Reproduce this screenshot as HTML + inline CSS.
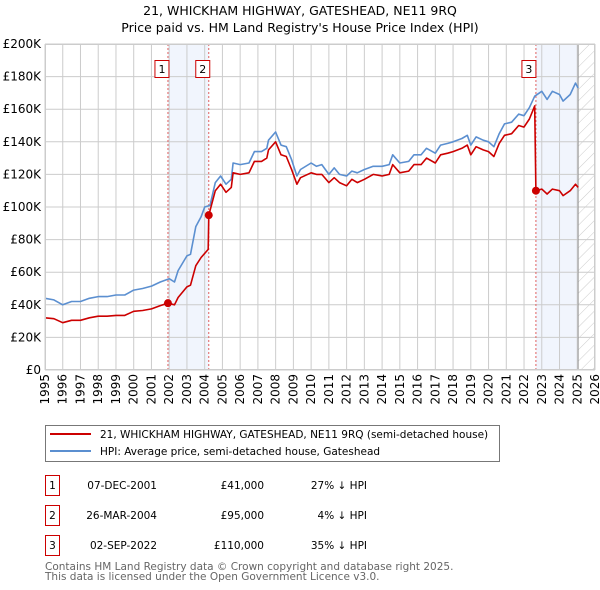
<!DOCTYPE html>
<html><head><meta charset="utf-8"><style>
body{margin:0;background:#fff;}
svg{display:block;font-family:"DejaVu Sans","Liberation Sans",sans-serif;}
</style></head><body>
<svg id="c" width="600" height="590" xmlns="http://www.w3.org/2000/svg">
<defs><pattern id="hatch" width="8" height="8" patternUnits="userSpaceOnUse" patternTransform="rotate(45)"><line x1="0" y1="0" x2="0" y2="8" stroke="#ccc" stroke-width="1"/></pattern></defs>
<text x="300" y="15" text-anchor="middle" font-size="12.5" fill="#000">21, WHICKHAM HIGHWAY, GATESHEAD, NE11 9RQ</text>
<text x="300" y="32" text-anchor="middle" font-size="12.5" fill="#000">Price paid vs. HM Land Registry's House Price Index (HPI)</text>
<g id="plot"></g>
<g>
<rect x="45.5" y="425.5" width="454" height="36" fill="#fff" stroke="#777"/>
<line x1="50" y1="434" x2="91" y2="434" stroke="#cc0000" stroke-width="2"/>
<text x="100" y="438" font-size="10.5">21, WHICKHAM HIGHWAY, GATESHEAD, NE11 9RQ (semi-detached house)</text>
<line x1="50" y1="451" x2="91" y2="451" stroke="#5b8fd0" stroke-width="2"/>
<text x="100" y="455" font-size="10.5">HPI: Average price, semi-detached house, Gateshead</text>
</g>
<g font-size="10.5">
<rect x="45.5" y="475.5" width="14" height="20" fill="#fff" stroke="#cc0000"/><text x="52.5" y="489" text-anchor="middle">1</text>
<text x="157" y="489" text-anchor="end">07-DEC-2001</text><text x="264" y="489" text-anchor="end">£41,000</text><text x="367" y="489" text-anchor="end">27% ↓ HPI</text>
<rect x="45.5" y="505.5" width="14" height="20" fill="#fff" stroke="#cc0000"/><text x="52.5" y="519" text-anchor="middle">2</text>
<text x="157" y="519" text-anchor="end">26-MAR-2004</text><text x="264" y="519" text-anchor="end">£95,000</text><text x="367" y="519" text-anchor="end">4% ↓ HPI</text>
<rect x="45.5" y="535.5" width="14" height="20" fill="#fff" stroke="#cc0000"/><text x="52.5" y="549" text-anchor="middle">3</text>
<text x="157" y="549" text-anchor="end">02-SEP-2022</text><text x="264" y="549" text-anchor="end">£110,000</text><text x="367" y="549" text-anchor="end">35% ↓ HPI</text>
</g>
<text x="45" y="570" font-size="10.5" fill="#666">Contains HM Land Registry data © Crown copyright and database right 2025.</text>
<text x="45" y="580" font-size="10.5" fill="#666">This data is licensed under the Open Government Licence v3.0.</text>
</svg>
<script>
const hpiT=[1995,1995.5,1996,1996.5,1997,1997.5,1998,1998.5,1999,1999.5,2000,2000.5,2001,2001.5,2002,2002.3,2002.5,2003,2003.2,2003.5,2003.8,2004,2004.3,2004.6,2004.9,2005.2,2005.5,2005.6,2006,2006.5,2006.8,2007.2,2007.5,2007.6,2008,2008.3,2008.6,2008.9,2009.2,2009.4,2010,2010.3,2010.6,2011,2011.3,2011.6,2012,2012.3,2012.6,2013,2013.5,2014,2014.4,2014.6,2015,2015.5,2015.8,2016.2,2016.5,2017,2017.3,2017.7,2018,2018.5,2018.8,2019,2019.3,2019.7,2020,2020.3,2020.6,2020.9,2021.3,2021.7,2022,2022.3,2022.6,2023,2023.3,2023.6,2024,2024.2,2024.6,2024.9,2025.05];
const hpiV=[44,43,40,42,42,44,45,45,46,46,49,50,51.5,54,56,54,61,70,71,88,94,100,101,115,119,114,117,127,126,127,134,134,136,141,146,138,137,129,119,123,127,125,126,120,124,120,119,122,121,123,125,125,126,132,127,128,132,132,136,133,138,139,140,142,144,138,143,141,140,137,145,151,152,157,156,161,168,171,166,171,169,165,169,176,173];
const redT=[1995,1995.5,1996,1996.5,1997,1997.5,1998,1998.5,1999,1999.5,2000,2000.5,2001,2001.5,2001.93,2002.3,2002.5,2003,2003.2,2003.5,2003.8,2004.2,2004.23,2004.6,2004.9,2005.2,2005.5,2005.6,2006,2006.5,2006.8,2007.2,2007.5,2007.6,2008,2008.3,2008.6,2008.9,2009.2,2009.4,2010,2010.3,2010.6,2011,2011.3,2011.6,2012,2012.3,2012.6,2013,2013.5,2014,2014.4,2014.6,2015,2015.5,2015.8,2016.2,2016.5,2017,2017.3,2017.7,2018,2018.5,2018.8,2019,2019.3,2019.7,2020,2020.3,2020.6,2020.9,2021.3,2021.7,2022,2022.3,2022.6,2022.67,2023,2023.3,2023.6,2024,2024.2,2024.6,2024.9,2025.05];
const redV=[32,31.5,29,30.5,30.5,32,33,33,33.5,33.5,36,36.5,37.5,39.5,41,40,44.5,51,52,64,69,74,95,110,114,109,112,121,120,121,128,128,130,135,140,132,131,123,114,118,121,120,120,115,118,115,113,117,115,117,120,119,120,126,121,122,126,126,130,127,132,133,134,136,138,132,137,135,134,131,139,144,145,150,149,154,162,110,111,108,111,110,107,110,114,112];
const saleT=[2001.93,2004.23,2022.67];
const saleV=[41,95,110];
const saleLabels=["1","2","3"];
const yTicks=[0,20,40,60,80,100,120,140,160,180,200];
const yTickLabels=["£0","£20K","£40K","£60K","£80K","£100K","£120K","£140K","£160K","£180K","£200K"];
const xYears=[1995,1996,1997,1998,1999,2000,2001,2002,2003,2004,2005,2006,2007,2008,2009,2010,2011,2012,2013,2014,2015,2016,2017,2018,2019,2020,2021,2022,2023,2024,2025,2026];
const dataEnd=2025.05;

const X0=45,X1=595,Y0=370,Y1=44;
const xs=t=>X0+(t-1995)/(2026-1995)*(X1-X0);
const ys=v=>Y0-v/200*(Y0-Y1);
const NS="http://www.w3.org/2000/svg";
const g=document.getElementById('plot');
function mk(tag,attrs,parent){const e=document.createElementNS(NS,tag);for(const k in attrs)e.setAttribute(k,attrs[k]);(parent||g).appendChild(e);return e;}
let sh=mk('rect',{x:xs(saleT[0]),y:Y1,width:xs(saleT[1])-xs(saleT[0]),height:Y0-Y1,fill:'#eef3fc',opacity:0.8});


let sh2=mk('rect',{x:xs(saleT[2]),y:Y1,width:xs(dataEnd)-xs(saleT[2]),height:Y0-Y1,fill:'#eef3fc',opacity:0.8});


let ht=mk('rect',{x:xs(dataEnd),y:Y1,width:X1-xs(dataEnd),height:Y0-Y1,fill:'url(#hatch)'});


yTicks.forEach((v,i)=>{
  mk('line',{x1:X0,x2:X1,y1:ys(v),y2:ys(v),stroke:'#ccc','stroke-width':1});
  const t=mk('text',{x:X0-4,y:ys(v)+4,'text-anchor':'end','font-size':12});
  t.textContent=yTickLabels[i];
  
  
});
xYears.forEach(y=>{
  mk('line',{x1:xs(y),x2:xs(y),y1:Y1,y2:Y0,stroke:'#ccc','stroke-width':1});
  const t=mk('text',{transform:`translate(${xs(y)+4},${Y0+4}) rotate(-90)`,'text-anchor':'end','font-size':12});
  t.textContent=y;
  
  
});
mk('line',{x1:xs(dataEnd),x2:xs(dataEnd),y1:Y1,y2:Y0,stroke:'#999','stroke-width':1});
saleT.forEach((t,i)=>{
  const l=mk('line',{x1:xs(t),x2:xs(t),y1:Y1,y2:Y0,stroke:'#e06060','stroke-width':1,'stroke-dasharray':'2,2'});
  
  
});
function path(T,V,color,name){
  const d=T.map((t,i)=>(i?'L':'M')+xs(t).toFixed(1)+','+ys(V[i]).toFixed(1)).join('');
  const p=mk('path',{d:d,fill:'none',stroke:color,'stroke-width':1.6,'stroke-linejoin':'round'});
  
  
}
path(hpiT,hpiV,'#5b8fd0','hpi-line');
path(redT,redV,'#cc0000','price-paid-line');
saleT.forEach((t,i)=>{
  const c=mk('circle',{cx:xs(t),cy:ys(saleV[i]),r:4,fill:'#cc0000'});
  
  
  const bx=xs(t)-9-(i<2?4:5);
  const r=mk('rect',{x:bx,y:60.5,width:14,height:17,fill:'#fff',stroke:'#cc0000'});
  
  
  const tx=mk('text',{x:bx+7,y:73,'text-anchor':'middle','font-size':11});
  tx.textContent=saleLabels[i];
  
  
});
mk('rect',{x:X0+0.5,y:Y1+0.5,width:X1-X0-1,height:Y0-Y1-1,fill:'none',stroke:'#ccc'});
</script>
</body></html>
